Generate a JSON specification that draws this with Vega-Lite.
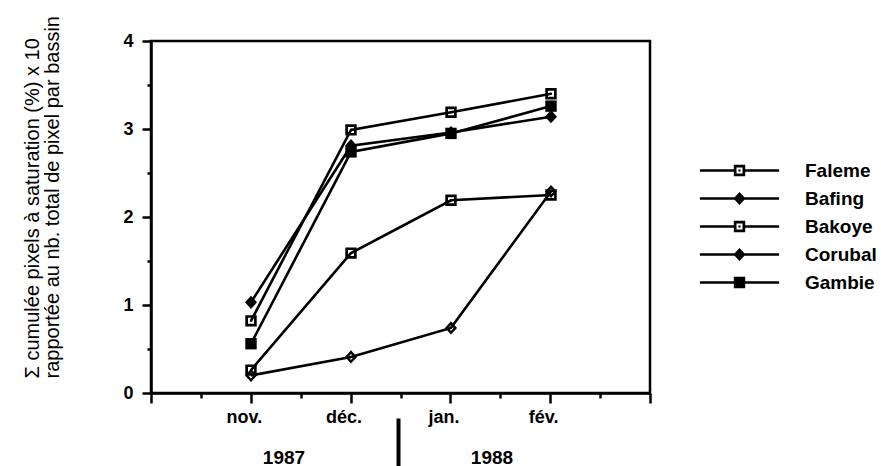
{
  "$schema": "https://vega.github.io/schema/vega-lite/v6.json",
  "width": 499,
  "height": 352,
  "autosize": "none",
  "padding": {"left": 151, "top": 41, "right": 231, "bottom": 73},
  "background": "white",
  "config": {
    "view": {"stroke": "black", "strokeWidth": 2.5},
    "font": "Liberation Sans",
    "axis": {
      "domainColor": "black", "domainWidth": 2.5,
      "tickColor": "black", "tickWidth": 2.5,
      "labelColor": "black", "titleColor": "black",
      "grid": false,
      "labelFont": "Liberation Sans", "labelFontWeight": "bold", "labelFontSize": 18,
      "labelOverlap": false
    }
  },
  "datasets": {
    "d": [
      {"bassin": "Faleme", "mois": "nov.", "valeur": 0.82},
      {"bassin": "Faleme", "mois": "déc.", "valeur": 2.99},
      {"bassin": "Faleme", "mois": "jan.", "valeur": 3.19},
      {"bassin": "Faleme", "mois": "fév.", "valeur": 3.40},
      {"bassin": "Bafing", "mois": "nov.", "valeur": 1.03},
      {"bassin": "Bafing", "mois": "déc.", "valeur": 2.81},
      {"bassin": "Bafing", "mois": "jan.", "valeur": 2.96},
      {"bassin": "Bafing", "mois": "fév.", "valeur": 3.14},
      {"bassin": "Bakoye", "mois": "nov.", "valeur": 0.26},
      {"bassin": "Bakoye", "mois": "déc.", "valeur": 1.59},
      {"bassin": "Bakoye", "mois": "jan.", "valeur": 2.19},
      {"bassin": "Bakoye", "mois": "fév.", "valeur": 2.25},
      {"bassin": "Corubal", "mois": "nov.", "valeur": 0.20},
      {"bassin": "Corubal", "mois": "déc.", "valeur": 0.41},
      {"bassin": "Corubal", "mois": "jan.", "valeur": 0.74},
      {"bassin": "Corubal", "mois": "fév.", "valeur": 2.29},
      {"bassin": "Gambie", "mois": "nov.", "valeur": 0.56},
      {"bassin": "Gambie", "mois": "déc.", "valeur": 2.74},
      {"bassin": "Gambie", "mois": "jan.", "valeur": 2.95},
      {"bassin": "Gambie", "mois": "fév.", "valeur": 3.26}
    ]
  },
  "layer": [
    {
      "data": {"name": "d"},
      "layer": [
        {
          "mark": {"type": "line", "color": "black", "strokeWidth": 2.6},
          "encoding": {
            "x": {"field": "mois", "type": "ordinal", "scale": {"type": "point", "domain": ["nov.", "déc.", "jan.", "fév."], "range": [100, 400], "padding": 0}, "axis": null},
            "y": {
              "field": "valeur", "type": "quantitative",
              "scale": {"domain": [0, 4], "nice": false},
              "axis": {
                "values": [0, 0.5, 1, 1.5, 2, 2.5, 3, 3.5, 4],
                "labelExpr": "datum.value % 1 === 0 ? format(datum.value, 'd') : ''",
                "tickSize": {"condition": {"test": "datum.value % 1 !== 0", "value": 4}, "value": 9},
                "labelPadding": 9,
                "title": ["Σ cumulée pixels à saturation (%) x 10", "rapportée au nb. total de pixel par bassin"],
                "titleFont": "Liberation Sans", "titleFontWeight": "normal", "titleFontSize": 20,
                "titleAngle": -90, "titleAlign": "left", "titleBaseline": "middle",
                "titleX": -119, "titleY": 337, "titleLineHeight": 20
              }
            },
            "detail": {"field": "bassin"},
            "order": {"value": null}
          }
        },
        {
          "mark": {"type": "point", "filled": true, "color": "black", "opacity": 1, "size": 144, "strokeWidth": 0},
          "encoding": {
            "x": {"field": "mois", "type": "ordinal"},
            "y": {"field": "valeur", "type": "quantitative"},
            "shape": {
              "field": "bassin", "type": "nominal",
              "scale": {
                "domain": ["Faleme", "Bafing", "Bakoye", "Corubal", "Gambie"],
                "range": [
                  "M-0.95,-0.95L0.95,-0.95L0.95,0.95L-0.95,0.95Z M-0.5,-0.5L-0.5,0.5L0.5,0.5L0.5,-0.5Z M-0.17,-0.17L0.17,-0.17L0.17,0.17L-0.17,0.17Z",
                  "M0,-1.1L1,0L0,1.1L-1,0Z",
                  "M-0.95,-0.95L0.95,-0.95L0.95,0.95L-0.95,0.95Z M-0.5,-0.5L-0.5,0.5L0.5,0.5L0.5,-0.5Z M-0.17,-0.17L0.17,-0.17L0.17,0.17L-0.17,0.17Z",
                  "M0,-1.1L1,0L0,1.1L-1,0Z M0,-0.5L-0.45,0L0,0.5L0.45,0Z",
                  "M-0.95,-0.95L0.95,-0.95L0.95,0.95L-0.95,0.95Z"
                ]
              },
              "legend": null
            }
          }
        },
        {
          "mark": {"type": "point", "filled": true, "color": "black", "opacity": 0, "size": 144, "strokeWidth": 0},
          "encoding": {
            "x": {"field": "mois", "type": "ordinal"},
            "y": {"field": "valeur", "type": "quantitative"},
            "shape": {
              "field": "bassin", "type": "nominal",
              "scale": {
                "domain": ["Faleme", "Bafing", "Bakoye", "Corubal", "Gambie"],
                "range": [
                  "M-6.6,-0.2L-0.95,-0.2L-0.95,0.2L-6.6,0.2Z M0.95,-0.2L6.6,-0.2L6.6,0.2L0.95,0.2Z M-0.95,-0.95L0.95,-0.95L0.95,0.95L-0.95,0.95Z M-0.5,-0.5L-0.5,0.5L0.5,0.5L0.5,-0.5Z M-0.17,-0.17L0.17,-0.17L0.17,0.17L-0.17,0.17Z",
                  "M-6.6,-0.2L6.6,-0.2L6.6,0.2L-6.6,0.2Z M0,-1.1L1,0L0,1.1L-1,0Z",
                  "M-6.6,-0.2L-0.95,-0.2L-0.95,0.2L-6.6,0.2Z M0.95,-0.2L6.6,-0.2L6.6,0.2L0.95,0.2Z M-0.95,-0.95L0.95,-0.95L0.95,0.95L-0.95,0.95Z M-0.5,-0.5L-0.5,0.5L0.5,0.5L0.5,-0.5Z M-0.17,-0.17L0.17,-0.17L0.17,0.17L-0.17,0.17Z",
                  "M-6.6,-0.2L6.6,-0.2L6.6,0.2L-6.6,0.2Z M0,-1.1L1,0L0,1.1L-1,0Z",
                  "M-6.6,-0.2L6.6,-0.2L6.6,0.2L-6.6,0.2Z M-0.95,-0.95L0.95,-0.95L0.95,0.95L-0.95,0.95Z"
                ]
              },
              "legend": {
                "orient": "none", "legendX": 579, "legendY": 120,
                "title": null, "padding": 0,
                "symbolSize": 144, "symbolFillColor": "black", "symbolStrokeWidth": 0, "symbolOpacity": 1,
                "labelFont": "Liberation Sans", "labelFontWeight": "bold", "labelFontSize": 19, "labelColor": "black",
                "labelOffset": 56, "rowPadding": 8, "labelLimit": 0
              }
            }
          }
        }
      ],
      "resolve": {"scale": {"shape": "independent"}}
    },
    {
      "mark": {"type": "rule", "opacity": 0},
      "encoding": {
        "x": {
          "datum": 0, "type": "quantitative",
          "scale": {"domain": [0, 5], "nice": false, "zero": false},
          "axis": {
            "orient": "bottom",
            "values": [0, 0.5, 1, 1.5, 2, 2.5, 3, 3.5, 4, 4.5, 5],
            "labelExpr": "datum.value == 1 ? 'nov.' : datum.value == 2 ? 'déc.' : datum.value == 3 ? 'jan.' : datum.value == 4 ? 'fév.' : ''",
            "tickSize": {"condition": {"test": "datum.value % 1 !== 0", "value": 5}, "value": 10},
            "labelPadding": 5, "labelOffset": -7, "labelFlush": false,
            "title": null
          }
        }
      }
    },
    {
      "mark": {"type": "rule", "opacity": 0},
      "encoding": {
        "x": {
          "datum": "1987", "type": "nominal",
          "scale": {"type": "band", "domain": ["1987", "1988"], "range": [38.5, 454.5], "paddingInner": 0, "paddingOuter": 0},
          "axis": {
            "orient": "bottom", "offset": 25, "domain": false,
            "tickOffset": 104, "tickSize": 50, "tickWidth": 4,
            "tickColor": {"condition": {"test": "datum.value === '1987'", "value": "black"}, "value": "transparent"},
            "labelPadding": -20, "labelOffset": -114, "labelAngle": 0, "labelFontSize": 19,
            "title": null
          }
        }
      }
    }
  ],
  "resolve": {"scale": {"x": "independent"}, "axis": {"x": "independent"}}
}
